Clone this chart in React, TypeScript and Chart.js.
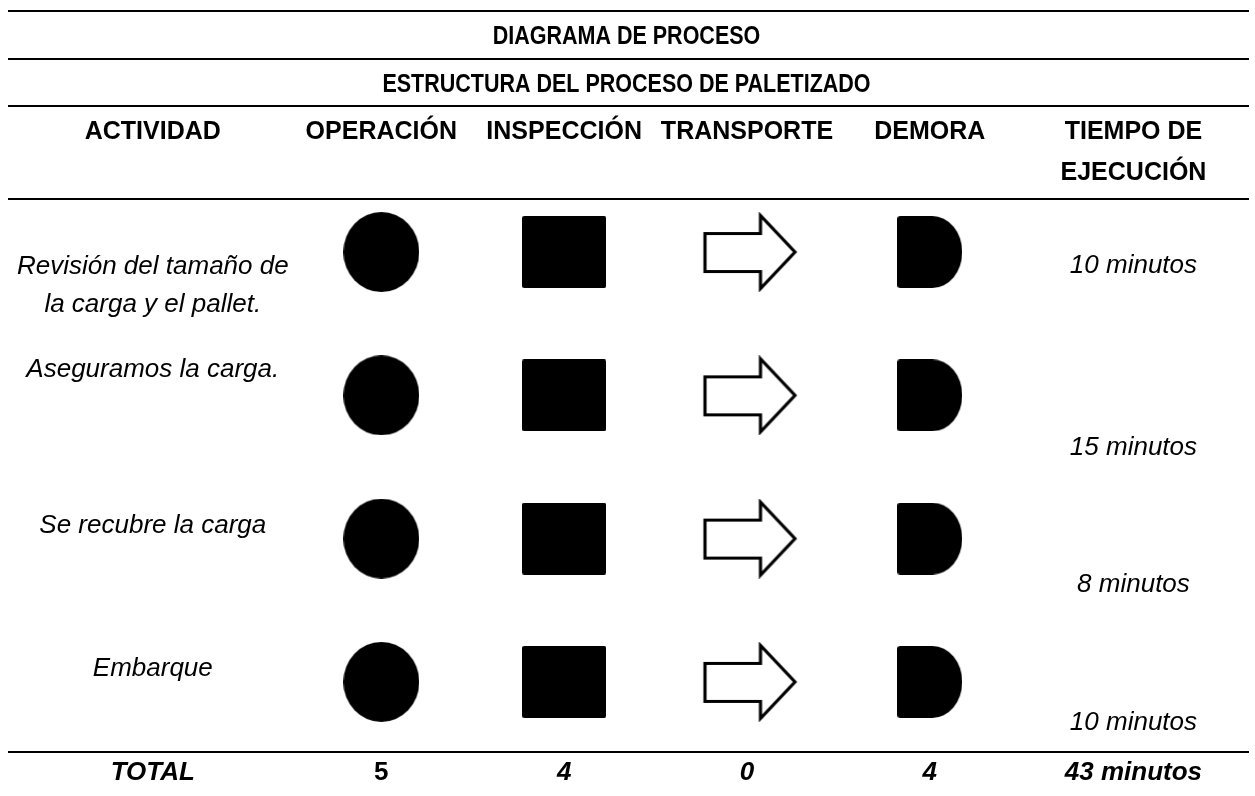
import React, { useEffect, useRef } from "react";
import { Chart, registerables } from "chart.js";

Chart.register(...registerables);

// ---------------- DATA ----------------
const TITLE = "DIAGRAMA DE PROCESO";
const SUBTITLE = "ESTRUCTURA DEL PROCESO DE PALETIZADO";
const ACTIVITY_HEADER = "ACTIVIDAD";
const SYMBOL_COLUMNS = ["OPERACIÓN", "INSPECCIÓN", "TRANSPORTE", "DEMORA"];
const TIME_HEADER = ["TIEMPO DE", "EJECUCIÓN"];
const ACTIVITIES = [
  ["Revisión del tamaño de", "la carga y el pallet."],
  ["Aseguramos la carga."],
  ["Se recubre la carga"],
  ["Embarque"],
];
const TIMES = ["10 minutos", "15 minutos", "8 minutos", "10 minutos"];
// 1 = the symbol is drawn for that activity
const OPERACION = [1, 1, 1, 1];
const INSPECCION = [1, 1, 1, 1];
const TRANSPORTE = [1, 1, 1, 1];
const DEMORA = [1, 1, 1, 1];
const TOTAL_LABEL = "TOTAL";
const TOTALS = ["5", "4", "0", "4"];
const TOTAL_TIME = "43 minutos";

// ---------------- LAYOUT / STYLE ----------------
const FONT = '"Liberation Sans", Arial, sans-serif';
const TITLE_SIZE = 25;
const TITLE_SCALE_X = 0.86;
const HEAD_SIZE = 25;
const SIZE = 26;
const X_MIN = -2.042;
const X_MAX = 4.746;
const ACT_X = -1.25;
const TIME_X = 4.114;
const Y_MIN = -0.37;
const Y_MAX = 3.489;
const ACT_OFFSETS = [22, -18, -6, -6];
const TIME_OFFSETS = [21, 60, 53, 48];
const LINE_GAP = 38;
const TOTAL_ITALIC = [true, false, true, true, true, true];

function makeCanvas(w: number, h: number, draw: (ctx: CanvasRenderingContext2D) => void) {
  const c = document.createElement("canvas");
  c.width = w;
  c.height = h;
  const ctx = c.getContext("2d") as CanvasRenderingContext2D;
  draw(ctx);
  return c;
}

function makeShapes() {
  const circle = makeCanvas(76, 80, (ctx) => {
    ctx.fillStyle = "#000";
    ctx.beginPath();
    ctx.ellipse(38, 40, 38, 40, 0, 0, Math.PI * 2);
    ctx.fill();
  });
  const square = makeCanvas(84, 72, (ctx) => {
    ctx.fillStyle = "#000";
    ctx.beginPath();
    (ctx as any).roundRect(0, 0, 84, 72, 2);
    ctx.fill();
  });
  const arrow = makeCanvas(103, 80, (ctx) => {
    ctx.translate(8, 2);
    ctx.beginPath();
    ctx.moveTo(1.5, 19.5);
    ctx.lineTo(57, 19.5);
    ctx.lineTo(57, 1.5);
    ctx.lineTo(91.5, 38);
    ctx.lineTo(57, 74.5);
    ctx.lineTo(57, 57.5);
    ctx.lineTo(1.5, 57.5);
    ctx.closePath();
    ctx.fillStyle = "#fff";
    ctx.fill();
    ctx.lineWidth = 3.2;
    ctx.lineJoin = "miter";
    ctx.strokeStyle = "#000";
    ctx.stroke();
  });
  const delay = makeCanvas(65, 72, (ctx) => {
    ctx.fillStyle = "#000";
    ctx.beginPath();
    ctx.moveTo(3, 0);
    ctx.lineTo(35, 0);
    ctx.ellipse(35, 36, 30, 36, 0, -Math.PI / 2, Math.PI / 2);
    ctx.lineTo(3, 72);
    ctx.arcTo(0, 72, 0, 69, 3);
    ctx.lineTo(0, 3);
    ctx.arcTo(0, 0, 3, 0, 3);
    ctx.closePath();
    ctx.fill();
  });
  return [circle, square, arrow, delay];
}

function condensedText(ctx: CanvasRenderingContext2D, t: string, x: number, y: number, sx: number) {
  ctx.save();
  ctx.translate(x, y);
  ctx.scale(sx, 1);
  ctx.fillText(t, 0, 0);
  ctx.restore();
}

const tablePlugin = {
  id: "tableText",
  afterDraw(chart: any) {
    const ctx: CanvasRenderingContext2D = chart.ctx;
    const area = chart.chartArea;
    const xs = chart.scales.x;
    const ys = chart.scales.y;
    const top = area.top;
    const bottom = area.bottom;
    const midX = (area.left + area.right) / 2 - 2;

    ctx.save();
    ctx.fillStyle = "#000";
    ctx.strokeStyle = "#000";
    ctx.lineWidth = 2;
    // horizontal rules
    [top - 188, top - 140, top - 93, top, bottom].forEach((y) => {
      ctx.beginPath();
      ctx.moveTo(area.left, y);
      ctx.lineTo(area.right, y);
      ctx.stroke();
    });

    ctx.textAlign = "center";
    ctx.textBaseline = "alphabetic";
    ctx.font = `bold ${TITLE_SIZE}px ${FONT}`;
    condensedText(ctx, TITLE, midX, top - 155, TITLE_SCALE_X);
    condensedText(ctx, SUBTITLE, midX, top - 107, TITLE_SCALE_X);

    ctx.font = `bold ${HEAD_SIZE}px ${FONT}`;
    const headY = top - 60;
    ctx.fillText(ACTIVITY_HEADER, xs.getPixelForValue(ACT_X), headY);
    SYMBOL_COLUMNS.forEach((h, i) => ctx.fillText(h, xs.getPixelForValue(i), headY));
    ctx.fillText(TIME_HEADER[0], xs.getPixelForValue(TIME_X), headY);
    ctx.fillText(TIME_HEADER[1], xs.getPixelForValue(TIME_X), top - 19);

    // body labels
    ctx.font = `italic ${SIZE}px ${FONT}`;
    ACTIVITIES.forEach((lines, r) => {
      const y0 = ys.getPixelForValue(r) + ACT_OFFSETS[r];
      lines.forEach((l, k) => ctx.fillText(l, xs.getPixelForValue(ACT_X), y0 + k * LINE_GAP));
    });
    TIMES.forEach((t, r) => {
      ctx.fillText(t, xs.getPixelForValue(TIME_X), ys.getPixelForValue(r) + TIME_OFFSETS[r]);
    });

    // totals row
    const totY = bottom + 28;
    const totalTexts = [TOTAL_LABEL, ...TOTALS, TOTAL_TIME];
    const totalX = [ACT_X, 0, 1, 2, 3, TIME_X];
    totalTexts.forEach((t, i) => {
      ctx.font = `${TOTAL_ITALIC[i] ? "italic " : ""}bold ${SIZE}px ${FONT}`;
      ctx.fillText(t, xs.getPixelForValue(totalX[i]), totY);
    });
    ctx.restore();
  },
};

export default function App() {
  const ref = useRef<HTMLCanvasElement | null>(null);

  useEffect(() => {
    if (!ref.current) return;
    const shapes = makeShapes();
    const marks = [OPERACION, INSPECCION, TRANSPORTE, DEMORA];
    const datasets = marks.map((col, c) => ({
      label: SYMBOL_COLUMNS[c],
      data: col
        .map((m, r) => (m ? { x: c, y: r } : null))
        .filter((p) => p !== null) as { x: number; y: number }[],
      pointStyle: shapes[c] as any,
      pointRadius: 5,
      showLine: false,
    }));

    const chart = new Chart(ref.current, {
      type: "scatter",
      data: { datasets },
      options: {
        animation: false,
        responsive: true,
        maintainAspectRatio: false,
        layout: { padding: { left: 8, right: 0, top: 199, bottom: 44 } },
        plugins: { legend: { display: false }, tooltip: { enabled: false } },
        scales: {
          x: { type: "linear", min: X_MIN, max: X_MAX, display: false },
          y: { type: "linear", min: Y_MIN, max: Y_MAX, reverse: true, display: false },
        },
      },
      plugins: [tablePlugin],
    });
    return () => chart.destroy();
  }, []);

  return (
    <div style={{ position: "absolute", left: 0, top: 0, width: 1255, height: 796, background: "#fff" }}>
      <canvas ref={ref} style={{ display: "block" }} />
    </div>
  );
}
